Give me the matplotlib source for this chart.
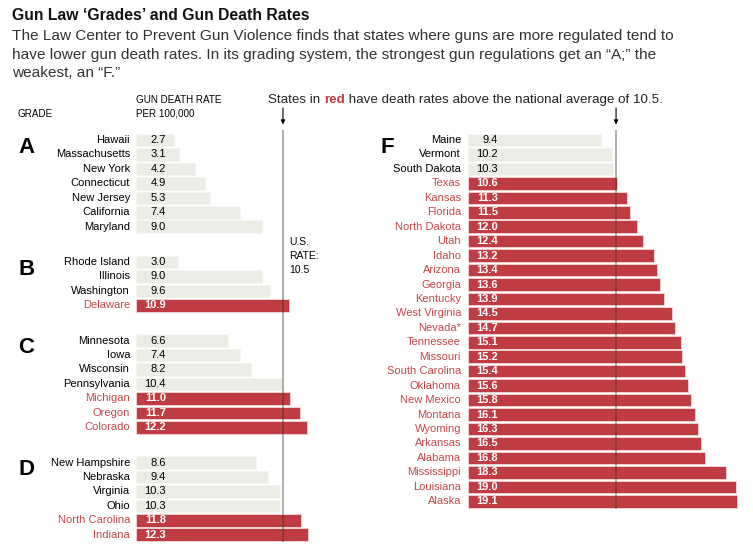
import matplotlib
matplotlib.use('Agg')
import matplotlib.pyplot as plt
from matplotlib import font_manager

# gun death rate per 100,000, grouped by the Law Center's grade
grade_a_states = ['Hawaii', 'Massachusetts', 'New York', 'Connecticut', 'New Jersey', 'California', 'Maryland']
grade_a_rates = [2.7, 3.1, 4.2, 4.9, 5.3, 7.4, 9.0]

grade_b_states = ['Rhode Island', 'Illinois', 'Washington', 'Delaware']
grade_b_rates = [3.0, 9.0, 9.6, 10.9]

grade_c_states = ['Minnesota', 'Iowa', 'Wisconsin', 'Pennsylvania', 'Michigan', 'Oregon', 'Colorado']
grade_c_rates = [6.6, 7.4, 8.2, 10.4, 11.0, 11.7, 12.2]

grade_d_states = ['New Hampshire', 'Nebraska', 'Virginia', 'Ohio', 'North Carolina', 'Indiana']
grade_d_rates = [8.6, 9.4, 10.3, 10.3, 11.8, 12.3]

grade_f_states = ['Maine', 'Vermont', 'South Dakota', 'Texas', 'Kansas', 'Florida', 'North Dakota',
                  'Utah', 'Idaho', 'Arizona', 'Georgia', 'Kentucky', 'West Virginia', 'Nevada*',
                  'Tennessee', 'Missouri', 'South Carolina', 'Oklahoma', 'New Mexico', 'Montana',
                  'Wyoming', 'Arkansas', 'Alabama', 'Mississippi', 'Louisiana', 'Alaska']
grade_f_rates = [9.4, 10.2, 10.3, 10.6, 11.3, 11.5, 12.0, 12.4, 13.2, 13.4, 13.6, 13.9, 14.5, 14.7,
                 15.1, 15.2, 15.4, 15.6, 15.8, 16.1, 16.3, 16.5, 16.8, 18.3, 19.0, 19.1]

national_rate = 10.5

RED = '#bf3d42'
RED_TEXT = '#c4474b'
BEIGE = '#ecebe5'

names = {f.name for f in font_manager.fontManager.ttflist}


def pick(*cands):
    for c in cands:
        if c in names:
            return c
    return 'DejaVu Sans'


SANS = pick('Liberation Sans', 'Arimo')

W, H = 753, 548
fig = plt.figure(figsize=(W / 100, H / 100), dpi=100)
renderer = fig.canvas.get_renderer()


def px_axes(left, top, right, bottom):
    return fig.add_axes([left / W, 1 - bottom / H, (right - left) / W, (bottom - top) / H])


def fx(x):
    return x / W


def fy(y):
    return 1 - y / H


def fit(texts, width):
    # scale font size so the texts together span the measured width in the reference
    w = sum(t.get_window_extent(renderer).width for t in texts)
    for t in texts:
        t.set_fontsize(t.get_fontsize() * width / w)


# panels: rows are ~14.45 px apart, ~14 px per unit of rate
ROW0 = 140
PITCH = 14.45


def row_lim(top, bottom):
    return ((bottom - ROW0) / PITCH, (top - ROW0) / PITCH)


ax_l = px_axes(136, 130, 136 + 13 * 14, 542)
ax_l.set_xlim(0, 13)
ax_l.set_ylim(*row_lim(130, 542))

ax_r = px_axes(468, 130, 468 + 20 * 14.1, 509)
ax_r.set_xlim(0, 20)
ax_r.set_ylim(*row_lim(130, 509))

# header text
title = fig.text(fx(12), fy(20), 'Gun Law \u2018Grades\u2019 and Gun Death Rates', family=SANS,
                 weight='bold', fontsize=11, va='baseline', color='#111111')
fit([title], 298)

sub = ['The Law Center to Prevent Gun Violence finds that states where guns are more regulated tend to',
       'have lower gun death rates. In its grading system, the strongest gun regulations get an \u201cA;\u201d the',
       'weakest, an \u201cF.\u201d']
sub_texts = [fig.text(fx(12), fy(40 + 18.5 * i), line, family=SANS, fontsize=10, color='#333333',
                      va='baseline') for i, line in enumerate(sub)]
fit([sub_texts[0]], 663)
for t in sub_texts[1:]:
    t.set_fontsize(sub_texts[0].get_fontsize())

h1 = fig.text(fx(17), fy(117), 'GRADE', family=SANS, fontsize=6.5, va='baseline')
h2 = fig.text(fx(136), fy(103), 'GUN DEATH RATE', family=SANS, fontsize=6.5, va='baseline')
h3 = fig.text(fx(136), fy(117), 'PER 100,000', family=SANS, fontsize=6.5, va='baseline')
fit([h2], 86)
h1.set_fontsize(h2.get_fontsize())
h3.set_fontsize(h2.get_fontsize())

t1 = fig.text(fx(268), fy(103), 'States in ', family=SANS, fontsize=9, va='baseline', color='#222222')
t2 = ax_l.annotate('red', xy=(1, 0), xycoords=t1, va='bottom', ha='left', family=SANS,
                   fontsize=9, weight='bold', color=RED, annotation_clip=False)
t3 = ax_l.annotate(' have death rates above the national average of 10.5.', xy=(1, 0), xycoords=t2,
                   va='bottom', ha='left', family=SANS, fontsize=9, color='#222222',
                   annotation_clip=False)
fit([t1, t2, t3], 395)


def draw_group(ax, letter, states, rates, start, name_off, letter_off):
    for i, (s, r) in enumerate(zip(states, rates)):
        y = start + i
        above = r > national_rate
        ax.barh(y, r, height=0.87, color=RED if above else BEIGE,
                edgecolor='#f2d9d9' if above else '#f4f4f0', linewidth=0.6, zorder=2)
        ax.annotate(s, xy=(0, y), xytext=(name_off, 0), textcoords='offset pixels',
                    ha='right', va='center', family=SANS, fontsize=8,
                    color=RED_TEXT if above else 'black', annotation_clip=False)
        ax.annotate(f'{r:.1f}', xy=(0, y), xytext=(30, 0), textcoords='offset pixels',
                    ha='right', va='center', family=SANS, fontsize=8,
                    weight='bold' if above else 'normal',
                    color='white' if above else 'black', zorder=4, annotation_clip=False)
    ax.annotate(letter, xy=(0, start - 0.43), xytext=(letter_off, -3), textcoords='offset pixels',
                ha='left', va='top', family=SANS, fontsize=16, weight='bold', annotation_clip=False)


left_groups = [('A', grade_a_states, grade_a_rates),
               ('B', grade_b_states, grade_b_rates),
               ('C', grade_c_states, grade_c_rates),
               ('D', grade_d_states, grade_d_rates)]
pos = 0
for letter, states, rates in left_groups:
    draw_group(ax_l, letter, states, rates, pos, -6, 18 - 136)
    pos += len(states) + 1.44

draw_group(ax_r, 'F', grade_f_states, grade_f_rates, 0, -7, 381 - 468)

for ax in (ax_l, ax_r):
    ax.axvline(national_rate, color='#333333', alpha=0.5, lw=1.1, zorder=3)
    ax.annotate('', xy=(national_rate, 1), xycoords=('data', 'axes fraction'),
                xytext=(0, 22), textcoords='offset pixels',
                arrowprops=dict(arrowstyle='-|>', color='black', lw=0.8, mutation_scale=6,
                                shrinkA=0, shrinkB=4))
    ax.axis('off')

ax_l.annotate('U.S.\nRATE:\n10.5', xy=(national_rate, 6), xytext=(6, -10), textcoords='offset pixels',
              ha='left', va='top', family=SANS, fontsize=7.5, linespacing=1.5,
              annotation_clip=False)

fig.savefig('out.png', dpi=100)
